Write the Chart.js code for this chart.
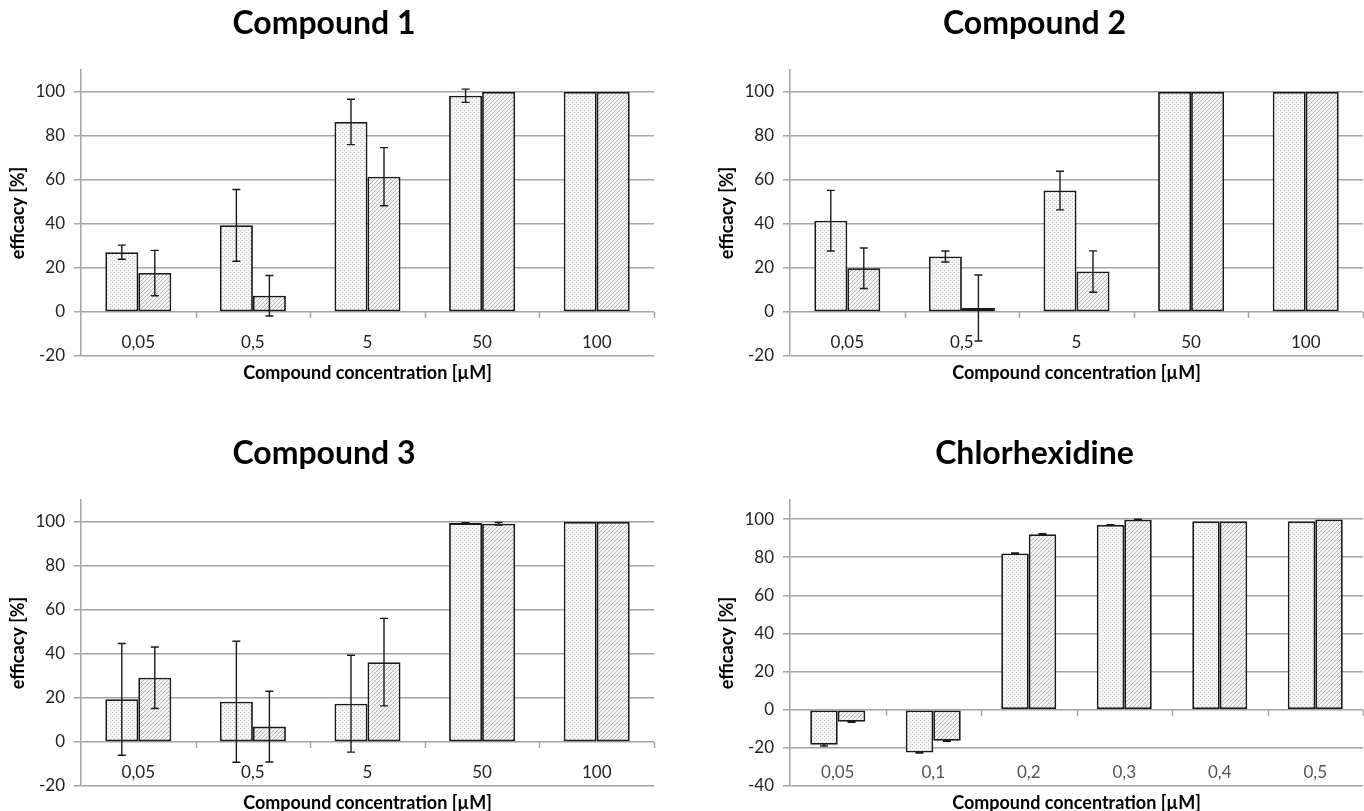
<!DOCTYPE html>
<html>
<head>
<meta charset="utf-8">
<script src="https://cdn.jsdelivr.net/npm/chart.js@4"></script>
<style>
  html, body { margin: 0; padding: 0; background: #fff; overflow: hidden; width: 1364px; height: 811px; }
  canvas { position: absolute; }
</style>
</head>
<body>
<canvas id="c1" width="664" height="390" style="left:-6px;top:0"></canvas>
<canvas id="c2" width="658" height="390" style="left:706px;top:0"></canvas>
<canvas id="c3" width="664" height="390" style="left:-6px;top:430px"></canvas>
<canvas id="c4" width="658" height="390" style="left:706px;top:430px"></canvas>
<script>
// concentrations on the x axis
const concCompounds = ['0,05', '0,5', '5', '50', '100'];
const concChlorhexidine = ['0,05', '0,1', '0,2', '0,3', '0,4', '0,5'];

// compound 1
const c1Dotted = [27.2, 39.4, 86.4, 98.3, 100];
const c1DottedErr = [3.2, 16.3, 10.3, 3.0, 0];
const c1Hatched = [17.7, 7.4, 61.5, 100, 100];
const c1HatchedErr = [10.3, 9.2, 13.2, 0, 0];

// compound 2
const c2Dotted = [41.5, 25.2, 55.2, 100, 100];
const c2DottedErr = [13.8, 2.5, 8.8, 0, 0];
const c2Hatched = [19.9, 1.8, 18.4, 100, 100];
const c2HatchedErr = [9.2, 15.0, 9.4, 0, 0];

// compound 3
const c3Dotted = [19.4, 18.3, 17.4, 99.5, 100];
const c3DottedErr = [25.4, 27.5, 22.0, 0.2, 0];
const c3Hatched = [29.2, 7.0, 36.3, 99.2, 100];
const c3HatchedErr = [14.0, 16.1, 19.9, 0.6, 0];

// chlorhexidine
const chxDotted = [-18.4, -22.4, 82.0, 96.9, 98.8, 98.8];
const chxDottedErr = [0.6, 0.3, 0.2, 0.2, 0, 0];
const chxHatched = [-6.3, -16.3, 92.1, 99.7, 98.8, 99.8];
const chxHatchedErr = [0.3, 0.3, 0.2, 0.2, 0, 0];

const gridColor = '#a3a3a3';
const inkColor = '#1a1a1a';

Chart.defaults.font.family = 'Lato, "Open Sans", sans-serif';
Chart.defaults.color = '#222';

function dotPattern() {
  const c = document.createElement('canvas');
  c.width = c.height = 4;
  const g = c.getContext('2d');
  g.fillStyle = '#f5f5f5';
  g.fillRect(0, 0, 4, 4);
  g.fillStyle = '#c4c4c4';
  g.fillRect(0, 0, 1, 1);
  g.fillRect(2, 2, 1, 1);
  return g.createPattern(c, 'repeat');
}

function hatchPattern() {
  const s = 4;
  const c = document.createElement('canvas');
  c.width = c.height = s;
  const g = c.getContext('2d');
  g.fillStyle = '#f4f4f4';
  g.fillRect(0, 0, s, s);
  g.strokeStyle = '#b4b4b4';
  g.lineWidth = 1;
  g.beginPath();
  g.moveTo(0, s); g.lineTo(s, 0);
  g.moveTo(-1, 1); g.lineTo(1, -1);
  g.moveTo(s - 1, s + 1); g.lineTo(s + 1, s - 1);
  g.stroke();
  return g.createPattern(c, 'repeat');
}

// error bars, from each dataset's errors array
const errorBars = {
  id: 'errorBars',
  afterDatasetsDraw(chart) {
    const { ctx } = chart;
    const y = chart.scales.y;
    ctx.save();
    ctx.strokeStyle = inkColor;
    ctx.lineWidth = 1.4;
    chart.data.datasets.forEach((ds, di) => {
      chart.getDatasetMeta(di).data.forEach((bar, i) => {
        const e = ds.errors[i];
        if (!e) return;
        const v = ds.data[i];
        const top = y.getPixelForValue(v + e);
        const bot = y.getPixelForValue(v - e);
        ctx.beginPath();
        ctx.moveTo(bar.x, top); ctx.lineTo(bar.x, bot);
        ctx.moveTo(bar.x - 4, top); ctx.lineTo(bar.x + 4, top);
        ctx.moveTo(bar.x - 4, bot); ctx.lineTo(bar.x + 4, bot);
        ctx.stroke();
      });
    });
    ctx.restore();
  }
};

// small tick marks under the zero line between categories
const zeroTicks = {
  id: 'zeroTicks',
  beforeDatasetsDraw(chart) {
    const { ctx } = chart;
    const { x, y } = chart.scales;
    const y0 = y.getPixelForValue(0);
    const n = chart.data.labels.length;
    ctx.save();
    ctx.strokeStyle = gridColor;
    ctx.lineWidth = 1.5;
    ctx.beginPath();
    for (let k = 1; k <= n; k++) {
      const px = Math.round(x.getPixelForValue(k - 0.5)) + 0.5;
      ctx.moveTo(px, y0);
      ctx.lineTo(px, y0 + 6);
    }
    ctx.stroke();
    ctx.restore();
  }
};

function makeChart(id, title, labels, dotted, dottedErr, hatched, hatchedErr, yMin, side, xLabelColor) {
  const left = side === 'left';
  new Chart(document.getElementById(id), {
    type: 'bar',
    data: {
      labels: labels,
      datasets: [
        { data: dotted, errors: dottedErr, backgroundColor: dotPattern() },
        { data: hatched, errors: hatchedErr, backgroundColor: hatchPattern() }
      ]
    },
    options: {
      responsive: false,
      animation: false,
      layout: { padding: { left: 0, right: left ? 4 : 1, top: 0, bottom: 0 } },
      datasets: {
        bar: {
          categoryPercentage: 0.576,
          barPercentage: 1,
          borderColor: inkColor,
          borderWidth: 1.8,
          borderSkipped: false
        }
      },
      plugins: {
        legend: { display: false },
        tooltip: { enabled: false },
        title: {
          display: true,
          text: title,
          color: '#000',
          font: { size: 32, weight: 'bold' },
          padding: { top: 4, bottom: 27.6 }
        }
      },
      scales: {
        x: {
          grid: { display: false },
          border: { display: false },
          ticks: {
            mirror: true,
            padding: 3,
            maxRotation: 0,
            autoSkip: false,
            color: xLabelColor,
            font: { size: 17 }
          },
          title: {
            display: true,
            text: 'Compound concentration [µM]',
            color: '#000',
            font: { size: 18, weight: 'bold' },
            padding: { top: 0, bottom: 6 }
          },
          afterFit(scale) { scale.height = 34; }
        },
        y: {
          min: yMin,
          max: 110,
          grid: { color: gridColor, lineWidth: 1.5, tickLength: 7 },
          border: { color: gridColor, width: 1.5 },
          ticks: {
            stepSize: 20,
            includeBounds: false,
            padding: 9,
            font: { size: 17 },
            callback: v => String(v)
          },
          title: {
            display: true,
            text: 'efficacy [%]',
            color: '#000',
            font: { size: 18, weight: 'bold' },
            padding: { top: left ? 13.2 : 10.2, bottom: 0 }
          },
          afterFit(scale) { scale.width = left ? 87 : 84; }
        }
      }
    },
    plugins: [zeroTicks, errorBars]
  });
}

makeChart('c1', 'Compound 1', concCompounds, c1Dotted, c1DottedErr, c1Hatched, c1HatchedErr, -20, 'left', '#222');
makeChart('c2', 'Compound 2', concCompounds, c2Dotted, c2DottedErr, c2Hatched, c2HatchedErr, -20, 'right', '#222');
makeChart('c3', 'Compound 3', concCompounds, c3Dotted, c3DottedErr, c3Hatched, c3HatchedErr, -20, 'left', '#222');
makeChart('c4', 'Chlorhexidine', concChlorhexidine, chxDotted, chxDottedErr, chxHatched, chxHatchedErr, -40, 'right', '#555');
</script>
</body>
</html>
